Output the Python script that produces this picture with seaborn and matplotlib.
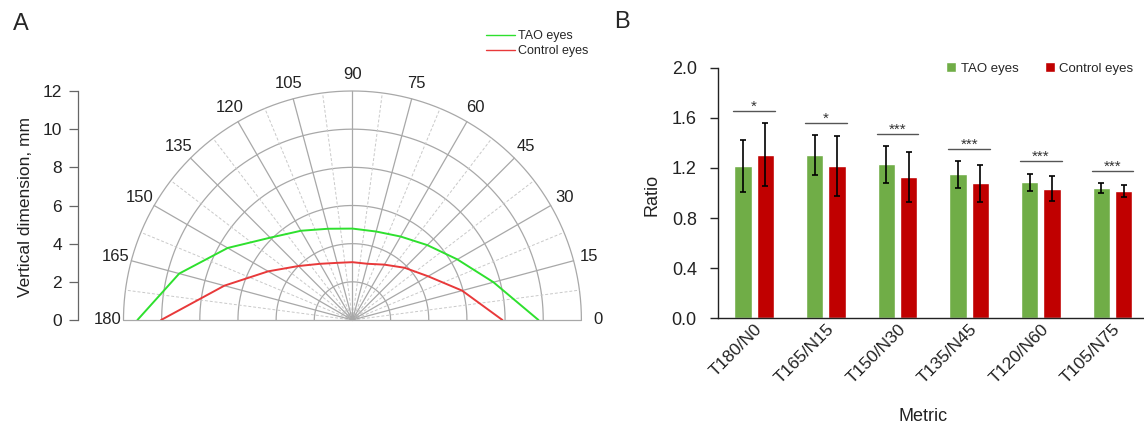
import numpy as np
import pandas as pd
import matplotlib
matplotlib.use('Agg')
import matplotlib.pyplot as plt
import matplotlib.transforms as mtransforms
import seaborn as sns

# 패널 A : 각도(도)별 반경(mm)
angles = [0, 15, 30, 45, 60, 75, 90, 105, 120, 135, 150, 165, 180]
tao_r = [9.75, 7.65, 6.35, 5.55, 5.05, 4.8, 4.79, 4.95, 5.4, 6.1, 7.55, 9.4, 11.27]
ctrl_r = [7.86, 5.95, 4.58, 3.87, 3.35, 3.05, 3.03, 3.1, 3.4, 4.0, 5.1, 6.95, 10.03]

# 패널 B : 비율 평균과 표준편차
metrics = ['T180/N0', 'T165/N15', 'T150/N30', 'T135/N45', 'T120/N60', 'T105/N75']
tao_mean = [1.215, 1.30, 1.229, 1.149, 1.085, 1.040]
tao_sd = [0.21, 0.16, 0.15, 0.11, 0.07, 0.04]
ctrl_mean = [1.306, 1.218, 1.130, 1.077, 1.035, 1.016]
ctrl_sd = [0.25, 0.24, 0.20, 0.15, 0.10, 0.05]
sig_y = [1.657, 1.561, 1.471, 1.351, 1.258, 1.178]
sig_txt = ['*', '*', '***', '***', '***', '***']

groups = ['TAO eyes', 'Control eyes']

sns.set_style('ticks')
plt.rcParams['font.family'] = ['Liberation Sans', 'DejaVu Sans']

W, H = 1144, 428
fig = plt.figure(figsize=(W / 100, H / 100), dpi=100)
ax1 = fig.add_axes([77.7 / W, 108 / H, 503.7 / W, 229 / H])
ax2 = fig.add_axes([718.3 / W, 109.7 / H, 425.7 / W, 250.6 / H])

# ---------------- 패널 A ----------------
grid_c = '#a8a8a8'
t = np.linspace(0, np.pi, 300)
for rr in range(2, 13, 2):
    ax1.plot(rr * np.cos(t), rr * np.sin(t), color=grid_c, lw=0.9, zorder=1, clip_on=False)
for a in np.arange(7.5, 180, 15):
    th = np.deg2rad(a)
    ax1.plot([0, 12 * np.cos(th)], [0, 12 * np.sin(th)], color='#c9c9c9', lw=0.7,
             ls=(0, (3, 2)), zorder=1, clip_on=False)
for a in range(0, 181, 15):
    th = np.deg2rad(a)
    ax1.plot([0, 12 * np.cos(th)], [0, 12 * np.sin(th)], color=grid_c, lw=0.9,
             zorder=1, clip_on=False)
    ax1.text(12.85 * np.cos(th), 12.85 * np.sin(th), str(a), ha='center', va='center',
             fontsize=12, color='#222222')

df_a = pd.DataFrame({'angle': angles * 2,
                     'r': tao_r + ctrl_r,
                     'group': [groups[0]] * len(angles) + [groups[1]] * len(angles)})
rad = np.deg2rad(df_a['angle'])
df_a['x'] = df_a['r'] * np.cos(rad)
df_a['y'] = df_a['r'] * np.sin(rad)

sns.lineplot(data=df_a, x='x', y='y', hue='group', hue_order=groups,
             palette=['#2ee02e', '#e8393a'], sort=False, estimator=None,
             lw=1.4, ax=ax1, zorder=3)

h, l = ax1.get_legend_handles_labels()
ax1.legend(h, l, loc='upper left', bbox_to_anchor=(486 / W, 1 - 30.5 / H),
           bbox_transform=fig.transFigure, frameon=False, fontsize=9,
           handlelength=2.3, handletextpad=0.25, labelspacing=0.2,
           borderpad=0, borderaxespad=0)
for ln in ax1.get_legend().get_lines():
    ln.set_linewidth(1.0)

ax1.set_xlim(-14.4, 12.0)
ax1.set_ylim(0, 12)
ax1.set_yticks(range(0, 13, 2))
ax1.set_xticks([])
for s in ['top', 'right', 'bottom']:
    ax1.spines[s].set_visible(False)
ax1.spines['left'].set_color('#666666')
ax1.spines['left'].set_linewidth(0.9)
ax1.tick_params(axis='y', length=6.5, width=0.9, color='#666666', labelsize=12.5,
                pad=4.7, labelcolor='#222222')
ax1.set_xlabel('')
ax1.set_ylabel('Vertical dimension, mm', fontsize=12.5, color='#222222')
ax1.yaxis.set_label_coords(-0.1046, 0.493)
ax1.yaxis.label.set_va('center')

# ---------------- 패널 B ----------------
df_b = pd.DataFrame({'Metric': metrics * 2,
                     'Ratio': tao_mean + ctrl_mean,
                     'group': [groups[0]] * len(metrics) + [groups[1]] * len(metrics)})

sns.barplot(data=df_b, x='Metric', y='Ratio', hue='group', hue_order=groups,
            palette=['#70ad47', '#c00000'], saturation=1, width=0.62, gap=0.226,
            errorbar=None, ax=ax2, zorder=2)

for cont, sd in zip(ax2.containers, [tao_sd, ctrl_sd]):
    xs = [b.get_x() + b.get_width() / 2 for b in cont]
    ys = [b.get_height() for b in cont]
    ax2.errorbar(xs, ys, yerr=sd, fmt='none', ecolor='black', elinewidth=1.2,
                 capsize=2.5, capthick=1.2, zorder=3)

for i in range(len(metrics)):
    ax2.plot([i - 0.29, i + 0.29], [sig_y[i], sig_y[i]], color='#555555', lw=1)
    ax2.text(i, sig_y[i], sig_txt[i], ha='center', va='baseline', fontsize=11,
             color='#333333')

ax2.set_xlim(-0.5, 5.44)
ax2.set_ylim(0, 2.0)
ax2.set_yticks(np.arange(0, 2.01, 0.4))
ax2.set_yticklabels(['%.1f' % v for v in np.arange(0, 2.01, 0.4)])
for s in ['top', 'right']:
    ax2.spines[s].set_visible(False)
for s in ['left', 'bottom']:
    ax2.spines[s].set_color('#222222')
    ax2.spines[s].set_linewidth(1.0)
ax2.tick_params(axis='y', length=6, width=1, labelsize=13, pad=9.5, labelcolor='#222222')
ax2.tick_params(axis='x', length=0, labelsize=12.5, pad=6, labelcolor='#222222')
offset = mtransforms.ScaledTranslation(4 / 72, 0, fig.dpi_scale_trans)
for lab in ax2.get_xticklabels():
    lab.set_rotation(45)
    lab.set_ha('right')
    lab.set_va('center')
    lab.set_rotation_mode('anchor')
    lab.set_transform(lab.get_transform() + offset)

ax2.set_xlabel('Metric', fontsize=13, color='#222222')
ax2.xaxis.set_label_coords(0.481, -0.393)
ax2.xaxis.label.set_va('center')
ax2.set_ylabel('Ratio', fontsize=13, color='#222222')
ax2.yaxis.set_label_coords(-0.156, 0.492)
ax2.yaxis.label.set_va('center')

h, l = ax2.get_legend_handles_labels()
ax2.legend(h, l, loc='upper left', bbox_to_anchor=(946 / W, 1 - 62.5 / H),
           bbox_transform=fig.transFigure, frameon=False, fontsize=9.5, ncol=2,
           handlelength=0.75, handleheight=0.75, handletextpad=0.35,
           columnspacing=2.0, borderpad=0, borderaxespad=0)

# 패널 라벨
fig.text(21 / W, 1 - 23.7 / H, 'A', fontsize=17, ha='center', va='center')
fig.text(622 / W, 1 - 22 / H, 'B', fontsize=17, ha='center', va='center')

fig.savefig('out.png', dpi=100)
